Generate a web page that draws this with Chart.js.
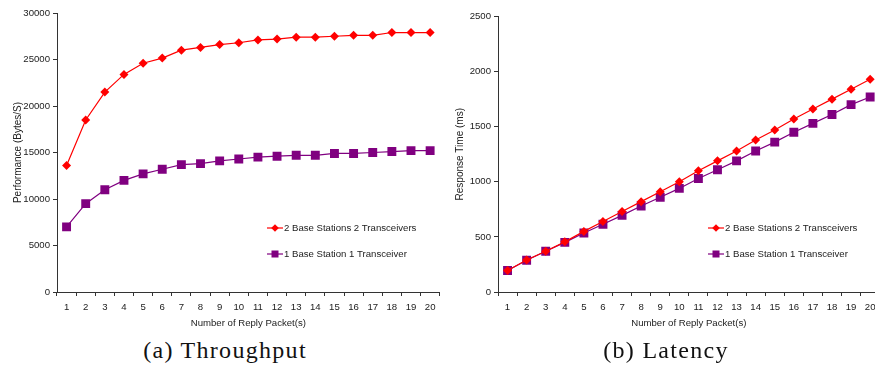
<!DOCTYPE html>
<html><head><meta charset="utf-8">
<script src="https://cdn.jsdelivr.net/npm/chart.js@4.4.0/dist/chart.umd.min.js"></script>
<style>
html,body{margin:0;padding:0;background:#fff;overflow:hidden;width:875px;height:367px;}
.box{position:absolute;top:0;width:446px;height:335px;}
.cap{position:absolute;top:337px;font-family:"Liberation Serif",serif;font-size:24px;letter-spacing:1.3px;color:#111;white-space:nowrap;transform:translateX(-50%);}
</style></head><body>
<div class="box" style="left:0"><canvas id="c1" width="446" height="335"></canvas></div>
<div class="box" style="left:440px"><canvas id="c2" width="446" height="335"></canvas></div>
<div class="cap" style="left:225px">(a) Throughput</div>
<div class="cap" style="left:666px">(b) Latency</div>
<script>
const packets = ["1","2","3","4","5","6","7","8","9","10","11","12","13","14","15","16","17","18","19","20"];
const seriesNames = ["2 Base Stations 2 Transceivers", "1 Base Station 1 Transceiver"];
const throughput2 = [13600,18500,21500,23400,24600,25150,26000,26300,26600,26800,27100,27200,27400,27400,27500,27600,27600,27900,27900,27900];
const throughput1 = [7000,9500,11000,12000,12700,13200,13700,13800,14100,14300,14500,14600,14700,14700,14900,14900,15000,15100,15200,15200];
const latency2 = [195,290,370,455,550,640,730,820,910,1000,1100,1190,1280,1380,1470,1570,1660,1750,1840,1930];
const latency1 = [195,288,370,450,535,615,695,780,860,940,1030,1110,1190,1280,1360,1450,1530,1610,1700,1770];
const yTicks1 = {min:0,max:30000,step:5000};
const yTicks2 = {min:0,max:2500,step:500};

const RED = '#ff0000', PURPLE = '#800080';
const FAM = "'Liberation Sans', Arial, sans-serif";
const FONT = {family:FAM, size:9.6};
const TXT = '#222';

const legendPlugin = {
  id:'inLegend',
  afterDraw(chart){
    const ctx = chart.ctx, a = chart.chartArea;
    const x0 = a.left + 210, ys = [228, 254];
    chart.data.datasets.forEach((ds, i) => {
      const y = ys[i];
      ctx.save();
      ctx.strokeStyle = ds.borderColor; ctx.lineWidth = 1.2;
      ctx.beginPath(); ctx.moveTo(x0, y); ctx.lineTo(x0 + 16, y); ctx.stroke();
      ctx.fillStyle = ds.pointBackgroundColor;
      const cx = x0 + 8;
      if (ds.pointStyle === 'rect') {
        ctx.fillRect(cx - 3.5, y - 3.5, 7, 7);
      } else {
        ctx.beginPath(); ctx.moveTo(cx, y - 3.8); ctx.lineTo(cx + 3.8, y); ctx.lineTo(cx, y + 3.8); ctx.lineTo(cx - 3.8, y); ctx.closePath(); ctx.fill();
      }
      ctx.fillStyle = TXT; ctx.font = "9.6px " + FAM;
      ctx.textBaseline = 'middle'; ctx.textAlign = 'left';
      ctx.fillText(ds.label, x0 + 17, y + 0.5);
      ctx.restore();
    });
  }
};

function makeChart(id, d2, d1, yt, yTitle, yWidth, padTop, titlePad){
  return new Chart(document.getElementById(id), {
    type:'line',
    data:{labels:packets, datasets:[
      {label:seriesNames[0], data:d2, borderColor:RED, backgroundColor:RED, pointBackgroundColor:RED, pointBorderColor:RED,
       pointStyle:'rectRot', pointRadius:4.5, pointHoverRadius:4.5, borderWidth:1.2, pointBorderWidth:0},
      {label:seriesNames[1], data:d1, borderColor:PURPLE, backgroundColor:PURPLE, pointBackgroundColor:PURPLE, pointBorderColor:PURPLE,
       pointStyle:'rect', pointRadius:6.3, pointHoverRadius:6.3, borderWidth:1.2, pointBorderWidth:0}
    ]},
    options:{
      responsive:false, animation:false, devicePixelRatio:1,
      layout:{padding:{top:padTop,right:0,left:0,bottom:0}},
      plugins:{legend:{display:false}, tooltip:{enabled:false}},
      scales:{
        x:{type:'category', offset:true,
           grid:{offset:true, drawOnChartArea:false, drawTicks:true, tickLength:4, color:'#333'},
           border:{display:true, color:'#333', width:1},
           ticks:{font:FONT, color:TXT, padding:6, maxRotation:0, autoSkip:false},
           title:{display:true, text:'Number of Reply Packet(s)', font:FONT, color:TXT, padding:{top:2,bottom:6}},
           afterFit(s){ s.height = 43; s.paddingLeft = 0; s.paddingRight = 0; }
        },
        y:{min:yt.min, max:yt.max,
           grid:{drawOnChartArea:false, drawTicks:true, tickLength:4, color:'#333'},
           border:{display:true, color:'#333', width:1},
           ticks:{stepSize:yt.step, font:FONT, color:TXT, padding:3, callback:(v)=>String(v)},
           title:{display:true, text:yTitle, font:{family:FAM, size:10}, color:TXT, padding:{top:titlePad,bottom:4}},
           afterFit(s){ s.width = yWidth; }
        }
      }
    },
    plugins:[legendPlugin]
  });
}
makeChart('c1', throughput2, throughput1, yTicks1, 'Performance (Bytes/S)', 57, 13, 12);
makeChart('c2', latency2, latency1, yTicks2, 'Response Time (ms)', 58, 16.5, 14.5);
</script>
</body></html>
